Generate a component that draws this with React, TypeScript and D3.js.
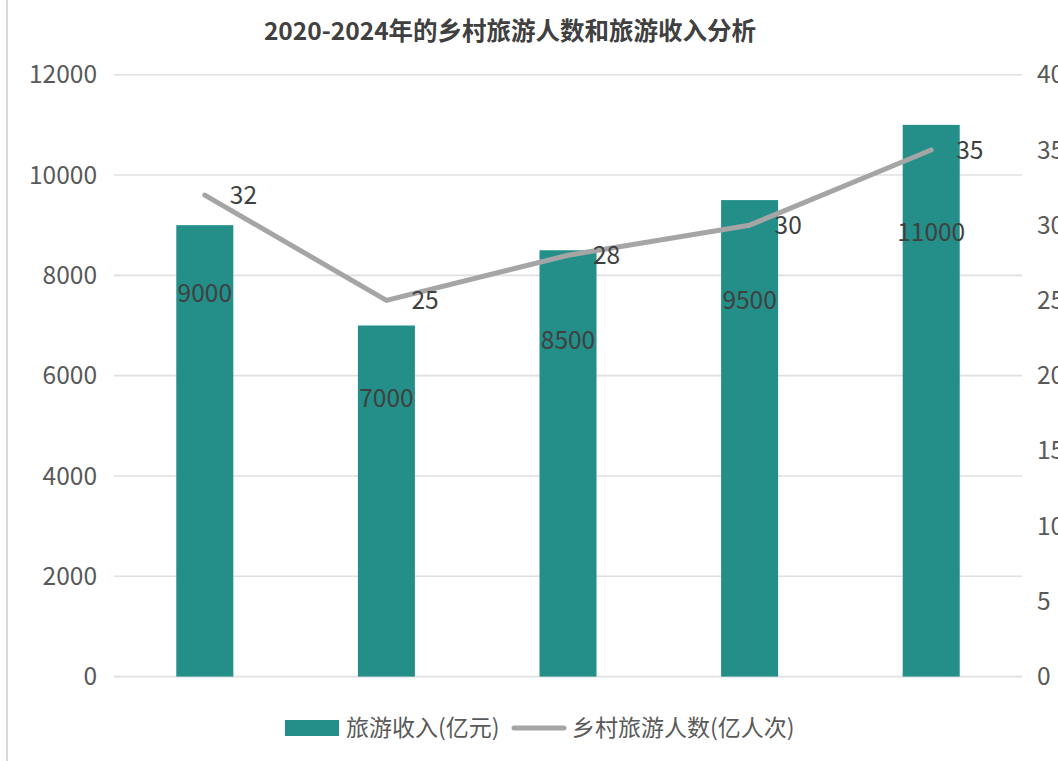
import React from "react";
import * as d3 from "d3";

const title = "2020-2024年的乡村旅游人数和旅游收入分析";
const years = ["2020", "2021", "2022", "2023", "2024"];
const income = [9000, 7000, 8500, 9500, 11000];
const visitors = [32, 25, 28, 30, 35];
const leftTicks = [0, 2000, 4000, 6000, 8000, 10000, 12000];
const rightTicks = [0, 5, 10, 15, 20, 25, 30, 35, 40];
const incomeName = "旅游收入(亿元)";
const visitorsName = "乡村旅游人数(亿人次)";
// pixel offsets of the bar value labels below each bar top (as placed in the original)
const barLabelOffsets = [68, 73, 90, 100, 108];

const W = 1058;
const H = 761;
const FONT = "'Noto Sans CJK SC', 'Noto Sans', sans-serif";
const BAR = "#238F88";
const LINE = "#A5A5A5";

export default function App() {
  const left = 114, right = 1022, top = 74.7, bottom = 676.6;
  const x = d3.scaleBand<string>().domain(years).range([left, right]).paddingInner(0.686).paddingOuter(0.343);
  const xc = d3.scalePoint<string>().domain(years).range([left, right]).padding(0.5);
  const yL = d3.scaleLinear().domain([0, 12000]).range([bottom, top]);
  const yR = d3.scaleLinear().domain([0, 40]).range([bottom, top]);
  const line = d3.line<number>().x((_, i) => xc(years[i])!).y((d) => yR(d));

  return (
    <svg width={W} height={H} style={{ position: "absolute", left: 0, top: 0, background: "#fff" }} fontFamily={FONT}>
      <rect x={0} y={0} width={W} height={H} fill="#fff" />
      <line x1={7} x2={7} y1={0} y2={H} stroke="#d9d9d9" strokeWidth={2} />
      <text x={510} y={40} textAnchor="middle" fontSize={24.5} fontWeight="bold" fill="#404040">{title}</text>
      {leftTicks.map((t) => (
        <g key={"g" + t}>
          <line x1={left} x2={right} y1={yL(t)} y2={yL(t)} stroke="#e0e0e0" strokeWidth={1.6} />
          <text x={97} y={yL(t)} dy="0.35em" textAnchor="end" fontSize={24.5} fill="#595959">{t}</text>
        </g>
      ))}
      {rightTicks.map((t) => (
        <text key={"r" + t} x={1037} y={yR(t)} dy="0.35em" textAnchor="start" fontSize={24.5} fill="#595959">{t}</text>
      ))}
      {income.map((v, i) => (
        <rect key={"b" + i} x={x(years[i])} y={yL(v)} width={x.bandwidth()} height={yL(0) - yL(v)} fill={BAR} />
      ))}
      <path d={line(visitors) || ""} fill="none" stroke={LINE} strokeWidth={5} strokeLinejoin="round" strokeLinecap="round" />
      {income.map((v, i) => (
        <text key={"bl" + i} x={xc(years[i])} y={yL(v) + barLabelOffsets[i]} dy="0.35em" textAnchor="middle" fontSize={24.5} fill="#404040">{v}</text>
      ))}
      {visitors.map((v, i) => (
        <text key={"ll" + i} x={xc(years[i])! + 25} y={yR(v)} dy="0.35em" textAnchor="start" fontSize={24.5} fill="#404040">{v}</text>
      ))}
      <g>
        <rect x={285} y={720} width={54} height={16} fill={BAR} />
        <text x={346} y={728} dy="0.35em" fontSize={23} fill="#595959">{incomeName}</text>
        <line x1={514} x2={564} y1={728} y2={728} stroke={LINE} strokeWidth={5} strokeLinecap="round" />
        <text x={572} y={728} dy="0.35em" fontSize={23} fill="#595959">{visitorsName}</text>
      </g>
    </svg>
  );
}
